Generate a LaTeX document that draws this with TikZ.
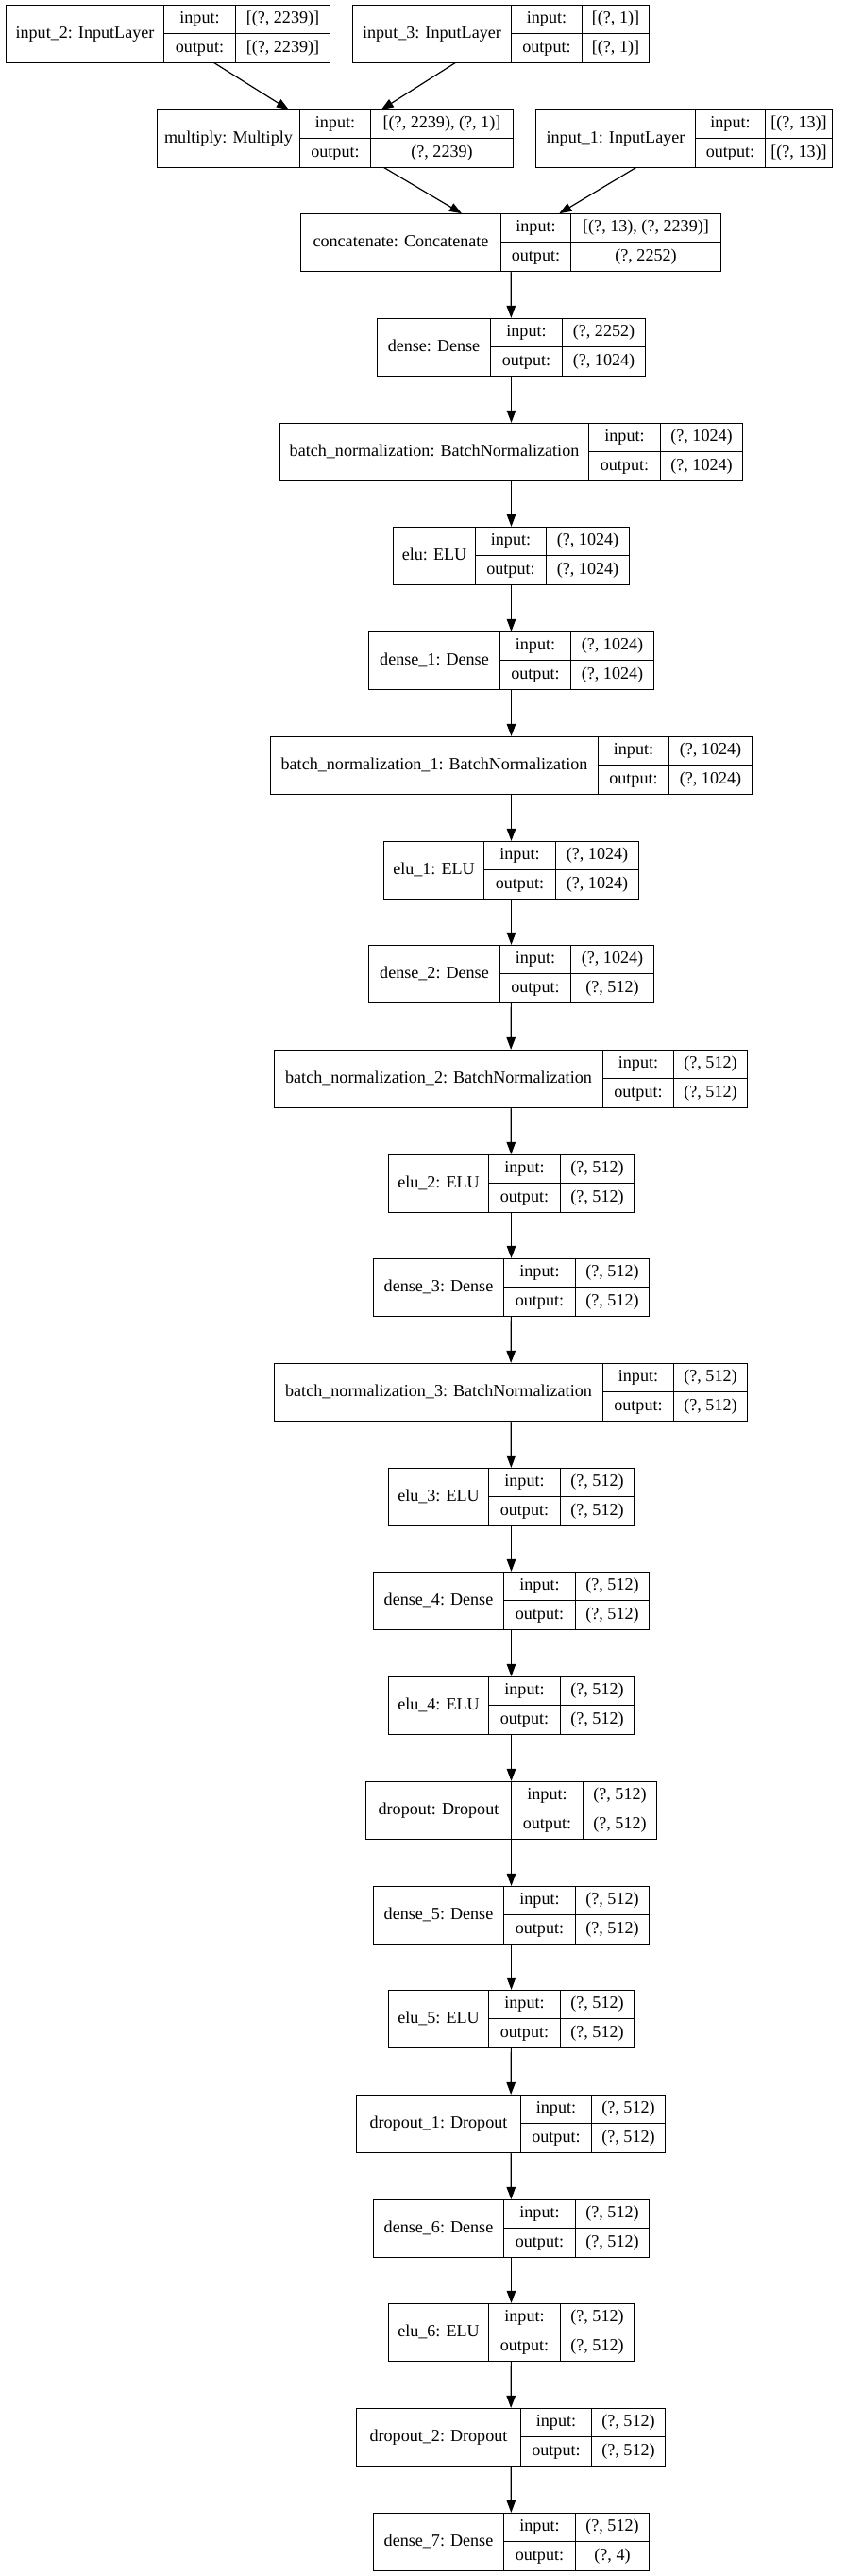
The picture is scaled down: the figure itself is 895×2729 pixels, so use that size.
\documentclass[tikz,border=0pt]{standalone}
\usepackage{fontspec}
\setmainfont{Liberation Serif}
\usetikzlibrary{arrows.meta}
\tikzset{
  layerbox/.style={draw=black, line width=1.2pt, fill=white, inner sep=0pt, outer sep=0pt, rectangle},
  cellline/.style={draw=black, line width=1.2pt},
  txt/.style={inner sep=0pt, anchor=center, text height=12.3pt, text depth=4pt, font=\fontsize{18.1}{22}\selectfont},
  edge/.style={draw=black, line width=1.2pt, -{Triangle[length=13pt, width=9.5pt]}, shorten >=0.6pt}
}
% #1 name, #2 row, #3 x0, #4 x1, #5 x2, #6 x3, #7 label, #8 input, #9 output
\newcommand{\klayer}[9]{%
  \pgfmathsetmacro{\kt}{round(5+110.7*#2)+0.5}%
  \pgfmathsetmacro{\kb}{\kt+61}%
  \pgfmathsetmacro{\km}{\kt+30}%
  \pgfmathsetmacro{\kqa}{\kt+15}%
  \pgfmathsetmacro{\kqb}{\kt+45.5}%
  \pgfmathsetmacro{\xa}{round(0.989*#3)+0.5}%
  \pgfmathsetmacro{\xb}{round(0.989*#4)+0.5}%
  \pgfmathsetmacro{\xc}{round(0.989*#5)+0.5}%
  \pgfmathsetmacro{\xd}{round(0.989*#6)+0.5}%
  \pgfmathsetmacro{\kw}{\xd-\xa}%
  \pgfmathsetmacro{\kcx}{(\xa+\xd)/2}%
  \pgfmathsetmacro{\kcy}{\kt+30.5}%
  \pgfmathsetmacro{\kla}{(\xa+\xb)/2}%
  \pgfmathsetmacro{\klb}{(\xb+\xc)/2}%
  \pgfmathsetmacro{\klc}{(\xc+\xd)/2}%
  \node[layerbox, minimum width=\kw pt, minimum height=61pt] (#1) at (\kcx,\kcy) {};
  \draw[cellline] (\xb,\kt) -- (\xb,\kb);
  \draw[cellline] (\xc,\kt) -- (\xc,\kb);
  \draw[cellline] (\xb,\km) -- (\xd,\km);
  \node[txt] (#1-l) at (\kla,\kcy) {#7};
  \node[txt] (#1-ki) at (\klb,\kqa) {input:};
  \node[txt] (#1-ko) at (\klb,\kqb) {output:};
  \node[txt] (#1-vi) at (\klc,\kqa) {#8};
  \node[txt] (#1-vo) at (\klc,\kqb) {#9};
}
\begin{document}
\begin{tikzpicture}[x=1pt, y=-1pt]
\fill[white] (0,0) rectangle (895,2729);
\useasboundingbox (0,0) rectangle (895,2729);

\klayer{in2}{0}{5.8}{175}{252}{353.2}{input\_2: InputLayer}{[(?, 2239)]}{[(?, 2239)]}
\klayer{in3}{0}{377.5}{547.2}{622.5}{694.9}{input\_3: InputLayer}{[(?, 1)]}{[(?, 1)]}
\klayer{mul}{1}{168}{320.2}{396.6}{548.9}{multiply: Multiply}{[(?, 2239), (?, 1)]}{(?, 2239)}
\klayer{in1}{1}{573.2}{744}{819.3}{890.6}{input\_1: InputLayer}{[(?, 13)]}{[(?, 13)]}
\klayer{cat}{2}{321.4}{535.6}{610.9}{771.9}{concatenate: Concatenate}{[(?, 13), (?, 2239)]}{(?, 2252)}
\klayer{d0}{3}{403.6}{525.2}{601.6}{690.2}{dense: Dense}{(?, 2252)}{(?, 1024)}
\klayer{bn0}{4}{298.8}{630}{706.4}{795}{batch\_normalization: BatchNormalization}{(?, 1024)}{(?, 1024)}
\klayer{e0}{5}{420.4}{508.4}{584.3}{673.4}{elu: ELU}{(?, 1024)}{(?, 1024)}
\klayer{d1}{6}{394.3}{534.5}{610.3}{700}{dense\_1: Dense}{(?, 1024)}{(?, 1024)}
\klayer{bn1}{7}{289}{639.8}{716.3}{804.9}{batch\_normalization\_1: BatchNormalization}{(?, 1024)}{(?, 1024)}
\klayer{e1}{8}{410.5}{518.2}{594.1}{683.8}{elu\_1: ELU}{(?, 1024)}{(?, 1024)}
\klayer{d2}{9}{394.3}{534.5}{610.3}{700}{dense\_2: Dense}{(?, 1024)}{(?, 512)}
\klayer{bn2}{10}{293.6}{645}{720.9}{800.2}{batch\_normalization\_2: BatchNormalization}{(?, 512)}{(?, 512)}
\klayer{e2}{11}{415.2}{522.9}{599.3}{678.6}{elu\_2: ELU}{(?, 512)}{(?, 512)}
\klayer{d3}{12}{399}{539.1}{615.5}{694.8}{dense\_3: Dense}{(?, 512)}{(?, 512)}
\klayer{bn3}{13}{293.6}{645}{720.9}{800.2}{batch\_normalization\_3: BatchNormalization}{(?, 512)}{(?, 512)}
\klayer{e3}{14}{415.2}{522.9}{599.3}{678.6}{elu\_3: ELU}{(?, 512)}{(?, 512)}
\klayer{d4}{15}{399}{539.1}{615.5}{694.8}{dense\_4: Dense}{(?, 512)}{(?, 512)}
\klayer{e4}{16}{415.2}{522.9}{599.3}{678.6}{elu\_4: ELU}{(?, 512)}{(?, 512)}
\klayer{dr0}{17}{390.9}{547.2}{623.6}{703}{dropout: Dropout}{(?, 512)}{(?, 512)}
\klayer{d5}{18}{399}{539.1}{615.5}{694.8}{dense\_5: Dense}{(?, 512)}{(?, 512)}
\klayer{e5}{19}{415.2}{522.9}{599.3}{678.6}{elu\_5: ELU}{(?, 512)}{(?, 512)}
\klayer{dr1}{20}{381}{557}{632.9}{712.2}{dropout\_1: Dropout}{(?, 512)}{(?, 512)}
\klayer{d6}{21}{399}{539.1}{615.5}{694.8}{dense\_6: Dense}{(?, 512)}{(?, 512)}
\klayer{e6}{22}{415.2}{522.9}{599.3}{678.6}{elu\_6: ELU}{(?, 512)}{(?, 512)}
\klayer{dr2}{23}{381}{557}{632.9}{712.2}{dropout\_2: Dropout}{(?, 512)}{(?, 512)}
\klayer{d7}{24}{399}{539.1}{615.5}{694.8}{dense\_7: Dense}{(?, 512)}{(?, 4)}

\draw[edge] (in2) -- (mul);
\draw[edge] (in3) -- (mul);
\draw[edge] (mul) -- (cat);
\draw[edge] (in1) -- (cat);
\foreach \a/\b in {cat/d0, d0/bn0, bn0/e0, e0/d1, d1/bn1, bn1/e1, e1/d2, d2/bn2, bn2/e2, e2/d3, d3/bn3, bn3/e3, e3/d4, d4/e4, e4/dr0, dr0/d5, d5/e5, e5/dr1, dr1/d6, d6/e6, e6/dr2, dr2/d7}
  \draw[edge] (\a) -- (\b);
\end{tikzpicture}
\end{document}
